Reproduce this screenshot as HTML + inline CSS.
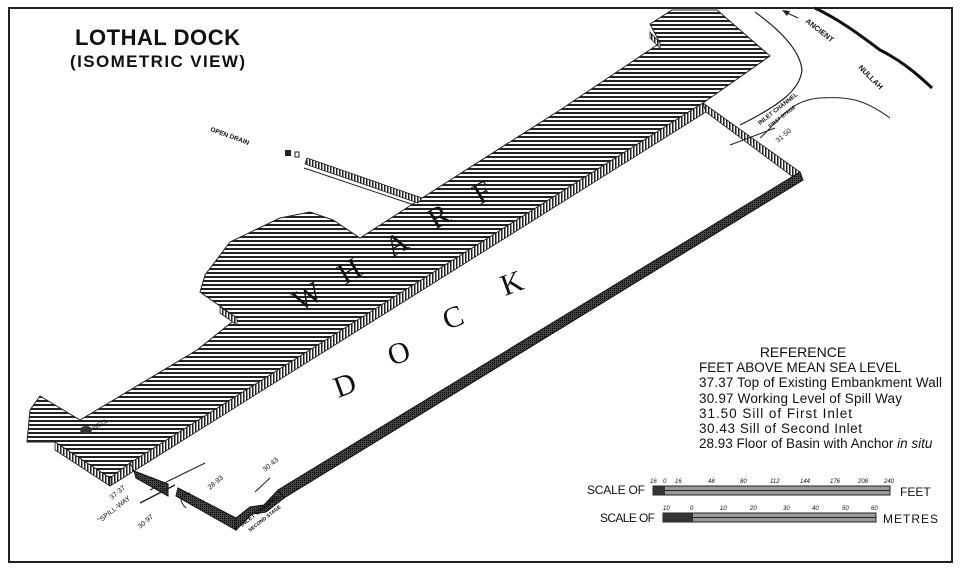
<!DOCTYPE html>
<html><head><meta charset="utf-8"><style>
html,body{margin:0;padding:0;background:#fff;}
svg{display:block;}
text{font-family:"Liberation Sans",sans-serif;fill:#111;}
</style></head><body>
<svg width="960" height="570" viewBox="0 0 960 570" xmlns="http://www.w3.org/2000/svg">
<defs>
<pattern id="h" x="0" y="0" width="10" height="4" patternUnits="userSpaceOnUse">
<rect width="10" height="4" fill="#fff"/><rect width="10" height="2" fill="#222"/>
</pattern>
<pattern id="v" width="3" height="6" patternUnits="userSpaceOnUse">
<rect width="3" height="6" fill="#fff"/><rect width="1.5" height="6" fill="#222"/>
</pattern>
<pattern id="d" width="2" height="2" patternUnits="userSpaceOnUse">
<rect width="2" height="2" fill="#444"/><rect width="1" height="1" fill="#000"/>
</pattern>
</defs>
<rect x="0" y="0" width="960" height="570" fill="#fff"/>
<rect x="9" y="8" width="943" height="554" fill="none" stroke="#222" stroke-width="2"/>

<text x="75" y="45" font-size="22" font-weight="bold" textLength="165">LOTHAL DOCK</text>
<text x="70" y="67" font-size="17" font-weight="bold" textLength="175">(ISOMETRIC VIEW)</text>

<polygon fill="url(#h)" stroke="#222" stroke-width="1" points="650,24 672,10 717,10 770,56 703,103 130,463 110,478 55,442 27,442 30,410 40,396 80,420 197,350 237,318 200,292 205,275 230,242 280,218 310,212 333,220 360,238 422,198 560,110 660,43"/>
<polygon fill="url(#v)" stroke="#222" stroke-width="0.8" points="703,103 130,463 134,471 706,112"/>
<polygon fill="url(#v)" stroke="#222" stroke-width="0.8" points="55,442 110,478 110,486 55,450"/>
<polygon fill="url(#v)" stroke="#222" stroke-width="0.8" points="110,478 130,463 134,471 110,486"/>
<polygon fill="url(#v)" stroke="#222" stroke-width="0.8" points="650,32 660,43 660,48 650,38"/>
<polygon fill="url(#v)" stroke="#222" stroke-width="0.8" points="220,307 237,318 237,325 220,313"/>

<polygon fill="url(#v)" stroke="#222" stroke-width="0.8" points="703,103 800,172 797,180 706,112"/>
<polygon fill="url(#d)" stroke="#111" stroke-width="1" points="800,172 803,180 284,498 278,490"/>
<polygon fill="url(#d)" stroke="#111" stroke-width="1" points="134,471 168,484 168,496 136,478"/>
<polygon fill="url(#d)" stroke="#111" stroke-width="1" points="178,488 236,518 236,530 176,496"/>
<polygon fill="url(#d)" stroke="#111" stroke-width="1" points="236,518 250,507 264,505 278,490 284,498 266,512 252,514 236,530"/>
<line x1="150" y1="490" x2="205" y2="463" stroke="#222" stroke-width="1"/>
<line x1="140" y1="503" x2="175" y2="485" stroke="#222" stroke-width="1.5"/>
<path d="M190,493 C180,495 178,500 186,508" fill="none" stroke="#222"/>
<line x1="255" y1="492" x2="270" y2="478" stroke="#222"/>

<polygon fill="url(#v)" stroke="#222" stroke-width="0.8" points="307,158 422,198 418,203 305,164"/>
<line x1="304" y1="168" x2="414" y2="205" stroke="#222"/>
<text x="0" y="0" font-size="6.5" font-weight="bold" transform="translate(210,131) rotate(20)">OPEN DRAIN</text>
<rect x="285" y="150" width="6" height="6" fill="#222"/><rect x="295" y="152" width="4" height="5" fill="none" stroke="#222"/>

<ellipse cx="86" cy="430" rx="6" ry="4" fill="#333"/>
<text x="0" y="0" font-size="6" transform="translate(94,430) rotate(-30)">WELL</text>

<path d="M815,8 C840,20 860,35 880,50 C900,60 915,72 932,88" fill="none" stroke="#111" stroke-width="3"/>
<path d="M755,12 C780,30 800,50 802,70 C800,90 780,105 740,125" fill="none" stroke="#222" stroke-width="1.2"/>
<path d="M760,138 C780,120 790,100 820,98 C850,96 865,100 890,118" fill="none" stroke="#222" stroke-width="1"/>
<line x1="785" y1="12" x2="798" y2="18" stroke="#222"/><polygon points="782,10 790,11 787,16" fill="#222"/>
<text x="0" y="0" font-size="7.5" font-weight="bold" transform="translate(805,22) rotate(38)">ANCIENT</text>
<text x="0" y="0" font-size="7.5" font-weight="bold" transform="translate(858,68) rotate(45)">NULLAH</text>
<text x="0" y="0" font-size="6" font-weight="bold" transform="translate(760,125) rotate(-38)">INLET CHANNEL</text>
<text x="0" y="0" font-size="5" font-weight="bold" transform="translate(770,128) rotate(-38)">FIRST STAGE</text>
<line x1="730" y1="145" x2="775" y2="128" stroke="#222"/>
<text x="0" y="0" font-size="7" transform="translate(778,143) rotate(-40)">31·50</text>

<text x="0" y="0" font-size="7" transform="translate(112,500) rotate(-40)">37·37</text>
<text x="0" y="0" font-size="7" transform="translate(100,523) rotate(-38)">"SPILL-WAY</text>
<text x="0" y="0" font-size="7" transform="translate(140,529) rotate(-40)">30·97</text>
<text x="0" y="0" font-size="7" transform="translate(210,490) rotate(-40)">28·93</text>
<text x="0" y="0" font-size="7" transform="translate(265,472) rotate(-40)">30·43</text>
<text x="0" y="0" font-size="6" font-weight="bold" transform="translate(242,527) rotate(-38)">INLET CHANNEL</text>
<text x="0" y="0" font-size="5" font-weight="bold" transform="translate(250,532) rotate(-38)">SECOND STAGE</text>

<g>
<text x="0" y="0" font-size="30" style="font-family:'Liberation Serif',serif" transform="translate(300,312) rotate(-30)">W</text>
<text x="0" y="0" font-size="30" style="font-family:'Liberation Serif',serif" transform="translate(345,285) rotate(-30)">H</text>
<text x="0" y="0" font-size="30" style="font-family:'Liberation Serif',serif" transform="translate(392,258) rotate(-30)">A</text>
<text x="0" y="0" font-size="30" style="font-family:'Liberation Serif',serif" transform="translate(435,230) rotate(-30)">R</text>
<text x="0" y="0" font-size="30" style="font-family:'Liberation Serif',serif" transform="translate(480,205) rotate(-30)">F</text>
<text x="0" y="0" font-size="30" style="font-family:'Liberation Serif',serif" transform="translate(338,398) rotate(-20)">D</text>
<text x="0" y="0" font-size="30" style="font-family:'Liberation Serif',serif" transform="translate(392,366) rotate(-20)">O</text>
<text x="0" y="0" font-size="30" style="font-family:'Liberation Serif',serif" transform="translate(447,330) rotate(-20)">C</text>
<text x="0" y="0" font-size="30" style="font-family:'Liberation Serif',serif" transform="translate(505,296) rotate(-20)">K</text>
</g>

<text x="803" y="357" font-size="14" text-anchor="middle">REFERENCE</text>
<text x="699" y="372" font-size="13.5">FEET ABOVE MEAN SEA LEVEL</text>
<text x="699" y="387" font-size="13.5" textLength="243">37.37  Top of Existing Embankment Wall</text>
<text x="699" y="403" font-size="13.5" textLength="203">30.97  Working Level of Spill Way</text>
<text x="699" y="418" font-size="13.5" textLength="153">31.50  Sill of First Inlet</text>
<text x="699" y="433" font-size="13.5" textLength="163">30.43  Sill of Second Inlet</text>
<text x="699" y="448" font-size="13.5">28.93  Floor of Basin with Anchor  <tspan font-style="italic">in situ</tspan></text>

<text x="587" y="494" font-size="12" textLength="58">SCALE OF</text>
<rect x="653" y="486" width="237" height="9" fill="#999" stroke="#222"/>
<line x1="653" y1="490.5" x2="890" y2="490.5" stroke="#222"/>
<rect x="653" y="486" width="12" height="9" fill="#333"/>
<text x="900" y="496" font-size="12">FEET</text>
<g font-size="6" font-style="italic">
<text x="650" y="483">16</text><text x="663" y="483">0</text><text x="675" y="483">16</text><text x="708" y="483">48</text><text x="740" y="483">80</text><text x="770" y="483">112</text><text x="800" y="483">144</text><text x="830" y="483">176</text><text x="858" y="483">208</text><text x="884" y="483">240</text>
<text x="663" y="510">10</text><text x="690" y="510">0</text><text x="720" y="510">10</text><text x="750" y="510">20</text><text x="783" y="510">30</text><text x="812" y="510">40</text><text x="842" y="510">50</text><text x="871" y="510">60</text>
</g>
<text x="600" y="522" font-size="12" textLength="55">SCALE OF</text>
<rect x="663" y="513" width="213" height="9" fill="#999" stroke="#222"/>
<line x1="663" y1="517.5" x2="876" y2="517.5" stroke="#222"/>
<rect x="663" y="513" width="30" height="9" fill="#333"/>
<text x="883" y="523" font-size="12" textLength="55">METRES</text>
</svg>
</body></html>
